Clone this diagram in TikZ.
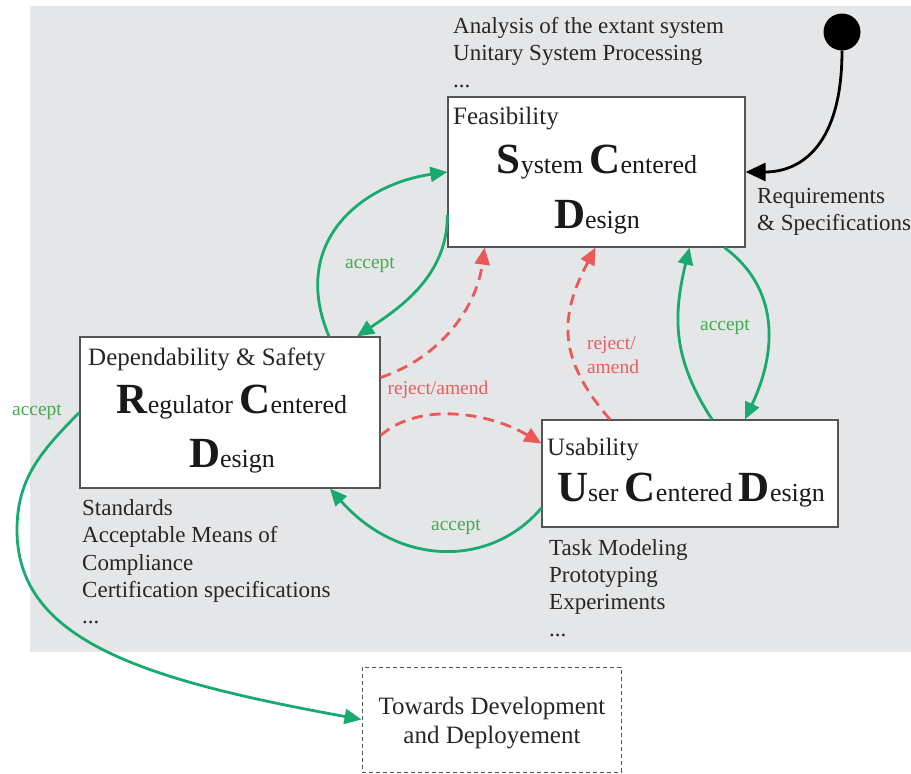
\documentclass[tikz,border=0pt]{standalone}
\usepackage{fontspec}
\setmainfont{Liberation Serif}
\newfontfamily\diagfont{Liberation Serif}
\usetikzlibrary{arrows.meta}
\definecolor{bggray}{RGB}{229,230,232}
\definecolor{boxline}{RGB}{85,85,85}
\definecolor{okgreen}{RGB}{24,170,110}
\definecolor{oktext}{RGB}{70,170,80}
\definecolor{nored}{RGB}{236,88,88}
\definecolor{notext}{RGB}{230,95,95}
\newcommand{\capletter}[1]{{\fontsize{43}{43}\selectfont\bfseries #1}}

\begin{document}
\begin{tikzpicture}[x=1pt, y=-1pt,
  box/.style={draw=boxline, line width=1.2pt, fill=white, inner sep=0},
  txt/.style={inner sep=0, font=\diagfont\fontsize{23}{27.5}\selectfont, text=black!85},
  title/.style={inner sep=0, font=\diagfont\fontsize{25}{30}\selectfont, text=black!85},
  bigtxt/.style={inner sep=0, font=\diagfont\fontsize{26}{30}\selectfont, text=black!90},
  lbl/.style={inner sep=0, font=\diagfont\fontsize{19.5}{24}\selectfont},
  ok/.style={draw=okgreen, line width=2.8pt, -{Triangle[length=17pt,width=15pt]}},
  no/.style={draw=nored, line width=2.8pt, dash pattern=on 11pt off 7pt, -{Triangle[length=17pt,width=15pt]}}]
\useasboundingbox (0,0) rectangle (911,774);
\fill[bggray] (30,6) rectangle (911,652);

\node[box, minimum width=297, minimum height=150] (scd) at (596.5,172) {};
\node[box, minimum width=300, minimum height=151] (rcd) at (230,412.5) {};
\node[box, minimum width=296, minimum height=107] (ucd) at (690,473.5) {};
\node[draw=boxline, line width=1pt, dash pattern=on 4pt off 3pt, inner sep=0,
  minimum width=259, minimum height=105] (dev) at (491.5,719.5) {};
\node[circle, fill=black, minimum size=37, inner sep=0] (init) at (842,32) {};

\node[txt, anchor=base west] (scdtop1) at (453,33) {Analysis of the extant system};
\node[txt, anchor=base west] (scdtop2) at (453,60) {Unitary System Processing};
\node[txt, anchor=base west] (scdtop3) at (453,87) {...};
\node[title, anchor=base west] (scdtitle) at (453,124) {Feasibility};
\node[bigtxt, anchor=base] (scdname1) at (597,173) {\capletter{S}ystem \capletter{C}entered};
\node[bigtxt, anchor=base] (scdname2) at (597,228) {\capletter{D}esign};
\node[txt, anchor=base west] (req1) at (757,203) {Requirements};
\node[txt, anchor=base west] (req2) at (757,230) {\& Specifications};

\node[title, anchor=base west] (rcdtitle) at (88,365) {Dependability \& Safety};
\node[bigtxt, anchor=base] (rcdname1) at (232,413) {\capletter{R}egulator \capletter{C}entered};
\node[bigtxt, anchor=base] (rcdname2) at (232,467) {\capletter{D}esign};
\node[txt, anchor=base west] (rcdlist1) at (82,515) {Standards};
\node[txt, anchor=base west] (rcdlist2) at (82,542.5) {Acceptable Means of};
\node[txt, anchor=base west] (rcdlist3) at (82,570) {Compliance};
\node[txt, anchor=base west] (rcdlist4) at (82,597.5) {Certification specifications};
\node[txt, anchor=base west] (rcdlist5) at (82,623) {...};

\node[title, anchor=base west] (ucdtitle) at (547,455) {Usability};
\node[bigtxt, anchor=base] (ucdname) at (691,501) {\capletter{U}ser \capletter{C}entered \capletter{D}esign};
\node[txt, anchor=base west] (ucdlist1) at (549,555) {Task Modeling};
\node[txt, anchor=base west] (ucdlist2) at (549,582) {Prototyping};
\node[txt, anchor=base west] (ucdlist3) at (549,609) {Experiments};
\node[txt, anchor=base west] (ucdlist4) at (549,636) {...};

\node[title, anchor=base] (dev1) at (492,714) {Towards Development};
\node[title, anchor=base] (dev2) at (492,743) {and Deployement};

\draw[line width=2.8pt, -{Triangle[length=20pt,width=18pt]}] (init.south) .. controls +(0,95) and +(55,0) .. (scd.east);

\draw[ok] ([xshift=99]rcd.north) .. controls +(-40,-95) and +(-85,12) .. (scd.west);
\draw[ok] ([yshift=-43]scd.west) .. controls +(0,60) and +(45,-30) .. ([xshift=127]rcd.north);
\draw[ok] ([xshift=22]ucd.north) .. controls +(-39,-60) and +(-17,70) .. ([xshift=93]scd.south);
\draw[ok] ([xshift=128]scd.south) .. controls +(54,40) and +(33,-70) .. ([xshift=55]ucd.north);
\draw[ok] ([yshift=-34.5]ucd.west) .. controls +(-50,59) and +(70,79) .. ([xshift=100]rcd.south);
\draw[ok] (rcd.west) .. controls +(-40,40) and +(0,-50) .. (17,530) .. controls +(0,110) and +(-220,-40) .. (dev.west);

\draw[no] ([yshift=35]rcd.east) .. controls +(60,-20) and +(-8,60) .. ([xshift=-112]scd.south);
\draw[no] ([yshift=-23]rcd.east) .. controls +(40,-35) and +(-50,-30) .. ([yshift=30]ucd.west);
\draw[no] ([xshift=-80]ucd.north) .. controls +(-52,-60) and +(-37,70) .. ([xshift=-1]scd.south);

\node[lbl, text=oktext] (acc1) at (370,265) {accept};
\node[lbl, text=oktext] (acc2) at (725,327) {accept};
\node[lbl, text=oktext] (acc3) at (456,527) {accept};
\node[lbl, text=oktext] (acc4) at (37,412) {accept};
\node[lbl, text=notext] (rej1) at (438,390) {reject/amend};
\node[lbl, text=notext, align=left] (rej2) at (613,355) {reject/\\amend};
\end{tikzpicture}
\end{document}
